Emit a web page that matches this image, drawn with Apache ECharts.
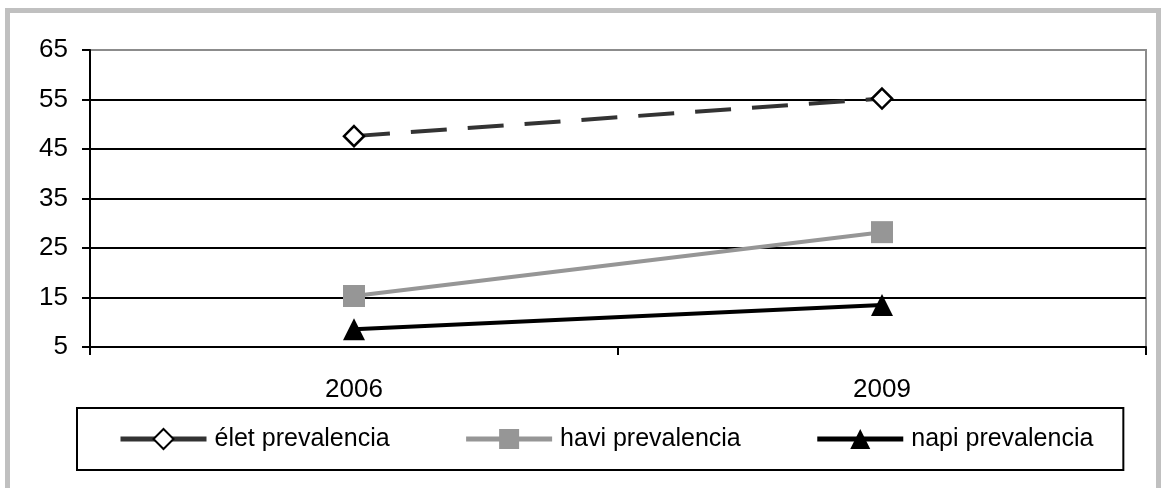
<!DOCTYPE html>
<html>
<head>
<meta charset="utf-8">
<style>
  html, body { margin: 0; padding: 0; background: #ffffff; }
  #chart { width: 1161px; height: 488px; }
</style>
<script src="https://cdn.jsdelivr.net/npm/echarts@6/dist/echarts.min.js"></script>
</head>
<body>
<div id="chart"></div>
<script>
// Survey years on the category axis
const years = ['2006', '2009'];

// Prevalence values (%) per survey year
const eletPrevalencia = [47.6, 55.2];
const haviPrevalencia = [15.3, 28.2];
const napiPrevalencia = [8.6, 13.5];

// Series names shown in the legend
const seriesNames = ['élet prevalencia', 'havi prevalencia', 'napi prevalencia'];

// Value axis range and step
const yMin = 5;
const yMax = 65;
const yStep = 10;

const FONT = '"Liberation Sans Narrow", "Arial Narrow", "Liberation Sans", Arial, sans-serif';

const chart = echarts.init(document.getElementById('chart'), null, { renderer: 'canvas' });

chart.setOption({
  backgroundColor: '#ffffff',
  animation: false,
  graphic: [{
    type: 'rect',
    silent: true,
    z: -10,
    shape: { x: 7.5, y: 10.5, width: 1151, height: 500 },
    style: { fill: 'none', stroke: '#c0c0c0', lineWidth: 5 }
  }],
  grid: {
    left: 90, right: 15, top: 50, bottom: 141,
    show: true,
    borderColor: '#8c8c8c',
    borderWidth: 2,
    containLabel: false
  },
  legend: {
    data: seriesNames,
    left: 77,
    top: 408,
    orient: 'horizontal',
    padding: [18, 30, 18, 41],
    itemGap: 74,
    itemWidth: 86,
    itemHeight: 25,
    borderColor: '#000000',
    borderWidth: 2,
    borderRadius: 0,
    lineStyle: { type: 'solid', width: 5 },
    textStyle: { fontFamily: FONT, fontSize: 25, color: '#000000', lineHeight: 26, padding: [0, 0, 0, 3] }
  },
  xAxis: {
    type: 'category',
    data: years,
    boundaryGap: true,
    axisLine: { lineStyle: { color: '#000000', width: 2 } },
    axisTick: { show: true, length: 8, lineStyle: { color: '#000000', width: 2 } },
    axisLabel: { fontFamily: FONT, fontSize: 26, color: '#000000', margin: 30 },
    splitLine: { show: false }
  },
  yAxis: {
    type: 'value',
    min: yMin,
    max: yMax,
    interval: yStep,
    axisLine: { show: true, lineStyle: { color: '#000000', width: 2 } },
    axisTick: { show: true, length: 8, lineStyle: { color: '#000000', width: 2 } },
    axisLabel: { fontFamily: FONT, fontSize: 26, color: '#000000', margin: 22 },
    splitLine: {
      show: true,
      lineStyle: {
        color: ['#000000', '#000000', '#000000', '#000000', '#000000', '#000000', '#8c8c8c'],
        width: 2
      }
    }
  },
  series: [
    {
      name: seriesNames[0],
      type: 'line',
      data: eletPrevalencia,
      symbol: 'diamond',
      symbolSize: 20,
      lineStyle: { color: '#333333', width: 4, type: [36, 21] },
      itemStyle: { color: '#ffffff', borderColor: '#000000', borderWidth: 2.5 },
      z: 3
    },
    {
      name: seriesNames[1],
      type: 'line',
      data: haviPrevalencia,
      symbol: 'rect',
      symbolSize: 22,
      lineStyle: { color: '#969696', width: 4 },
      itemStyle: { color: '#969696', borderWidth: 0 },
      z: 3
    },
    {
      name: seriesNames[2],
      type: 'line',
      data: napiPrevalencia,
      symbol: 'triangle',
      symbolSize: 22,
      lineStyle: { color: '#000000', width: 4 },
      itemStyle: { color: '#000000', borderWidth: 0 },
      z: 3
    }
  ]
});
</script>
</body>
</html>
